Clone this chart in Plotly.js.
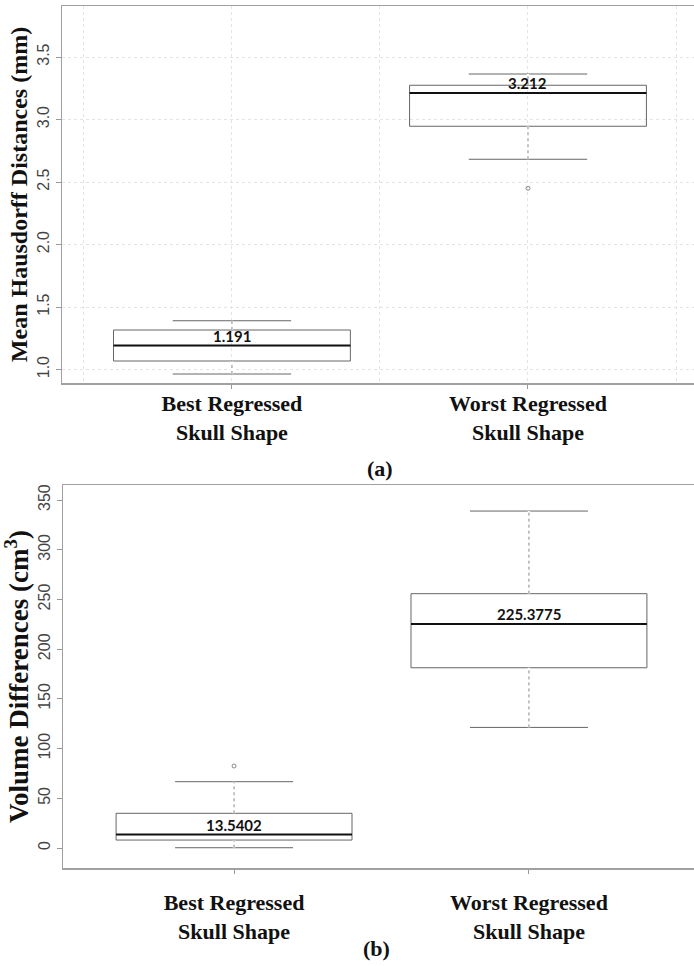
<!DOCTYPE html>
<html>
<head>
<meta charset="utf-8">
<script src="https://cdn.plot.ly/plotly-3.0.1.min.js"></script>
<style>html,body{margin:0;padding:0;background:#fff;overflow:hidden;}#chart{width:700px;height:966px;}</style>
</head>
<body>
<div id="chart"></div>
<script>
// ---- data ----
const categories = ['Best Regressed<br>Skull Shape', 'Worst Regressed<br>Skull Shape'];
const catIndex = [0, 1];

// (a) Mean Hausdorff distances (mm)
const hausLower  = [0.964, 2.682];
const hausQ1     = [1.068, 2.946];
const hausMedian = [1.191, 3.212];
const hausQ3     = [1.316, 3.274];
const hausUpper  = [1.390, 3.364];
const hausOutlierCat = [1];
const hausOutlierVal = [2.45];

// (b) Volume differences (cm^3)
const volLower  = [0.3, 121.3];
const volQ1     = [8.0, 181.3];
const volMedian = [13.5402, 225.3775];
const volQ3     = [34.9, 255.8];
const volUpper  = [66.7, 338.9];
const volOutlierCat = [0];
const volOutlierVal = [82.5];

// ---- styles ----
const W = 700, H = 966;   // canvas a little wider than the window so the plot's right edge is cropped
const BOXW = 0.8;
const serif = 'Liberation Serif, Times New Roman, serif';
const sans = 'Liberation Sans, Arial, sans-serif';
const axisGrey = '#a0a0a0';

function boxTrace(q1, med, q3, lo, hi, xa, ya) {
  return {
    type: 'box', x: catIndex, q1: q1, median: med, q3: q3,
    lowerfence: lo, upperfence: hi, width: BOXW, whiskerwidth: 0.5,
    fillcolor: 'rgba(255,255,255,0)', line: {color: '#666', width: 1},
    boxpoints: false, xaxis: xa, yaxis: ya, showlegend: false, hoverinfo: 'skip'
  };
}
// R-style dotted whiskers drawn over the box trace's solid whisker stems
function whiskerTraces(q1, q3, lo, hi, xa, ya) {
  const xs = [], ys = [];
  catIndex.forEach((c, i) => {
    xs.push(c, c, null, c, c, null);
    ys.push(q3[i], hi[i], null, lo[i], q1[i], null);
  });
  return [
    {type: 'scatter', mode: 'lines', x: xs, y: ys, line: {color: '#fff', width: 2.5},
     xaxis: xa, yaxis: ya, showlegend: false, hoverinfo: 'skip'},
    {type: 'scatter', mode: 'lines', x: xs, y: ys, line: {color: '#888', width: 1, dash: 'dot'},
     xaxis: xa, yaxis: ya, showlegend: false, hoverinfo: 'skip'}
  ];
}
function medianTrace(med, xa, ya) {
  const xs = [], ys = [];
  catIndex.forEach((c, i) => { xs.push(c - BOXW / 2, c + BOXW / 2, null); ys.push(med[i], med[i], null); });
  return {type: 'scatter', mode: 'lines', x: xs, y: ys, line: {color: '#111', width: 2},
          xaxis: xa, yaxis: ya, showlegend: false, hoverinfo: 'skip'};
}
function outlierTrace(cx, vals, xa, ya) {
  return {type: 'scatter', mode: 'markers', x: cx, y: vals,
          marker: {symbol: 'circle-open', size: 4, color: '#888', line: {width: 1}},
          xaxis: xa, yaxis: ya, showlegend: false, hoverinfo: 'skip'};
}
function medianLabels(med, xa, ya) {
  return catIndex.map((c, i) => ({
    x: c, y: med[i], xref: xa, yref: ya, text: '<b>' + String(med[i]) + '</b>',
    showarrow: false, yanchor: 'bottom', xanchor: 'center', yshift: -1,
    font: {family: 'Lato, Open Sans, sans-serif', size: 15, color: '#111'}
  }));
}

const data = [].concat(
  [boxTrace(hausQ1, hausMedian, hausQ3, hausLower, hausUpper, 'x', 'y')],
  whiskerTraces(hausQ1, hausQ3, hausLower, hausUpper, 'x', 'y'),
  [medianTrace(hausMedian, 'x', 'y'), outlierTrace(hausOutlierCat, hausOutlierVal, 'x', 'y')],
  [boxTrace(volQ1, volMedian, volQ3, volLower, volUpper, 'x2', 'y2')],
  whiskerTraces(volQ1, volQ3, volLower, volUpper, 'x2', 'y2'),
  [medianTrace(volMedian, 'x2', 'y2'), outlierTrace(volOutlierCat, volOutlierVal, 'x2', 'y2')]
);

const xCommon = {
  tickvals: catIndex, ticktext: categories, ticks: 'outside', ticklen: 4, tickcolor: '#999',
  showline: true, linecolor: axisGrey, linewidth: 1.5, mirror: true, zeroline: false,
  tickfont: {family: serif, size: 22, color: '#111', weight: 'bold'},
  fixedrange: true
};
const yCommon = {
  ticks: 'outside', ticklen: 5, tickcolor: '#999', tickangle: -90,
  showline: true, linecolor: axisGrey, linewidth: 1.5, zeroline: false,
  tickfont: {family: sans, size: 16, color: '#444'}
};

const layout = {
  width: W, height: H,
  margin: {l: 0, r: 0, t: 0, b: 0},
  paper_bgcolor: '#fff', plot_bgcolor: '#fff',
  showlegend: false,
  xaxis: Object.assign({}, xCommon, {
    domain: [62 / W, 1], range: [-0.574, 1.581], anchor: 'y', ticklabelstandoff: -4,
    showgrid: true, gridcolor: '#e4e4e4', griddash: 'dot', gridwidth: 1,
    minor: {dtick: 0.5, tick0: 0, showgrid: true, gridcolor: '#e4e4e4', griddash: 'dot', ticks: ''}
  }),
  yaxis: Object.assign({}, yCommon, {
    domain: [1 - 383 / H, 1 - 6 / H], range: [0.892, 3.908], anchor: 'x',
    tick0: 1, dtick: 0.5, tickformat: '.1f',
    showgrid: true, gridcolor: '#e4e4e4', griddash: 'dot', gridwidth: 1,
    title: {text: '<b>Mean Hausdorff Distances (mm)</b>', standoff: 0,
            font: {family: serif, size: 24, color: '#111'}}
  }),
  xaxis2: Object.assign({}, xCommon, {
    domain: [63 / W, 1], range: [-0.580, 1.580], anchor: 'y2', showgrid: false, ticklabelstandoff: 10
  }),
  yaxis2: Object.assign({}, yCommon, {
    domain: [1 - 868 / H, 1 - 485 / H], range: [-20.1, 365.1], anchor: 'x2',
    tick0: 0, dtick: 50, showgrid: false,
    title: {text: '<b>Volume Differences (cm<sup>3</sup>)</b>', standoff: 0,
            font: {family: serif, size: 27, color: '#111'}}
  }),
  annotations: [].concat(
    medianLabels(hausMedian, 'x', 'y'),
    medianLabels(volMedian, 'x2', 'y2'),
    [
      {x: 380 / W, y: 1 - 468 / H, xref: 'paper', yref: 'paper', text: '<b>(a)</b>', showarrow: false,
       xanchor: 'center', yanchor: 'middle', font: {family: serif, size: 22, color: '#111'}},
      {x: 376 / W, y: 1 - 948 / H, xref: 'paper', yref: 'paper', text: '<b>(b)</b>', showarrow: false,
       xanchor: 'center', yanchor: 'middle', font: {family: serif, size: 22, color: '#111'}}
    ]
  )
};

Plotly.newPlot('chart', data, layout, {staticPlot: true, displayModeBar: false});
</script>
</body>
</html>
